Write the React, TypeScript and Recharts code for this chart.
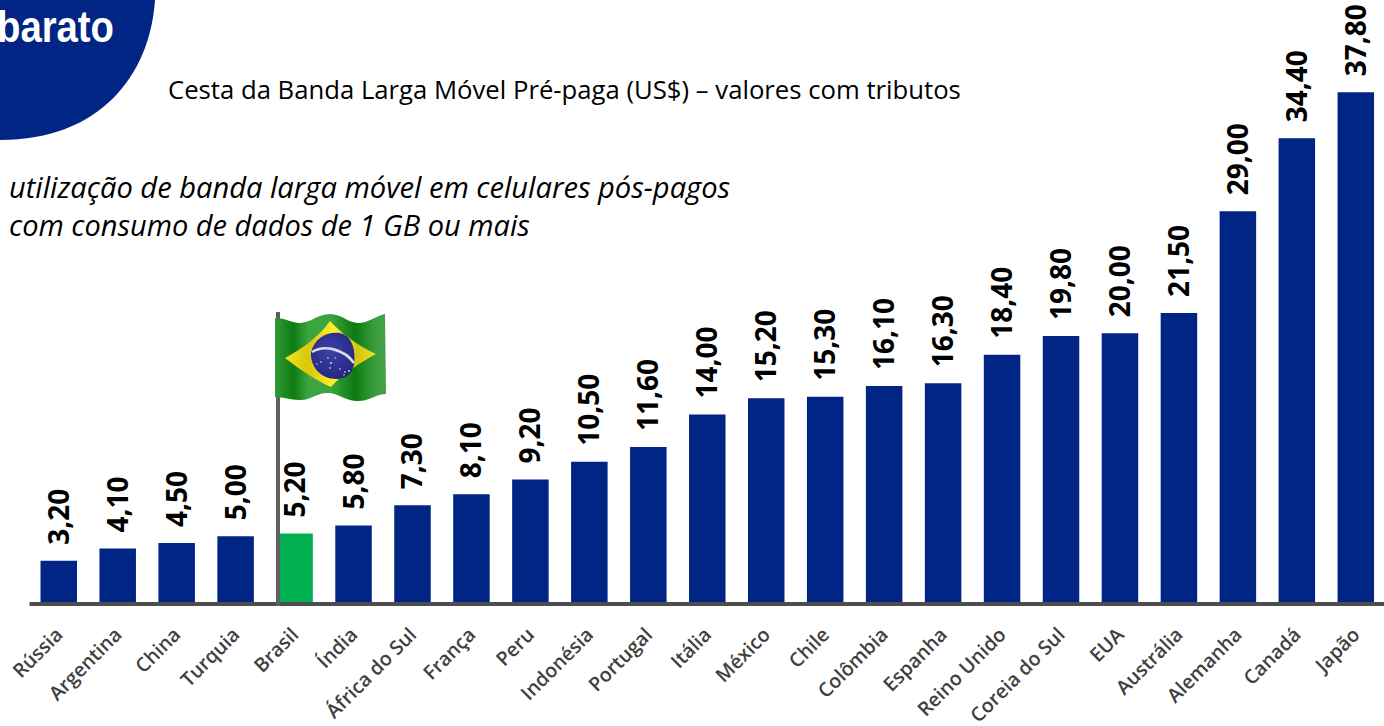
import { Bar, BarChart, Cell, LabelList, XAxis, YAxis } from "recharts";

const countries = [
  "Rússia", "Argentina", "China", "Turquia", "Brasil", "Índia", "África do Sul", "França", "Peru", "Indonésia",
  "Portugal", "Itália", "México", "Chile", "Colômbia", "Espanha", "Reino Unido", "Coreia do Sul", "EUA", "Austrália",
  "Alemanha", "Canadá", "Japão",
];
const prices = [
  3.2, 4.1, 4.5, 5.0, 5.2, 5.8, 7.3, 8.1, 9.2, 10.5, 11.6, 14.0, 15.2, 15.3, 16.1, 16.3, 18.4, 19.8, 20.0, 21.5, 29.0,
  34.4, 37.8,
];
const highlighted = "Brasil";

const chartData = countries.map((name, i) => ({ name, price: prices[i] }));

const NAVY = "#002585";
const GREEN = "#00B050";
const BODY_FONT = "'Open Sans', sans-serif";

function CountryTick({ x, y, payload }: any) {
  return (
    <text
      x={x + 5}
      y={y + 24}
      transform={`rotate(-45 ${x + 5} ${y + 24})`}
      textAnchor="end"
      fontFamily={BODY_FONT}
      fontSize={19.6}
      fontWeight={600}
      fill="#404040"
    >
      {payload.value}
    </text>
  );
}

function PriceLabel({ x, y, width, value }: any) {
  const lx = x + width / 2 + 10;
  const ly = y - 16;
  return (
    <text
      x={lx}
      y={ly}
      transform={`rotate(-90 ${lx} ${ly})`}
      fontFamily={BODY_FONT}
      fontSize={28}
      fontWeight={700}
      fill="#000"
    >
      {Number(value).toFixed(2).replace(".", ",")}
    </text>
  );
}

function Flag() {
  return (
    <g>
      <defs>
        <linearGradient id="flagGreen" x1="0" x2="1" y1="0" y2="0">
          <stop offset="0" stopColor="#2f9a35" />
          <stop offset="0.17" stopColor="#0f7a12" />
          <stop offset="0.3" stopColor="#3da53f" />
          <stop offset="0.5" stopColor="#3da53f" />
          <stop offset="0.72" stopColor="#0d7a10" />
          <stop offset="0.9" stopColor="#3b9e3d" />
          <stop offset="1" stopColor="#469f46" />
        </linearGradient>
        <linearGradient id="flagYellow" x1="0" x2="1" y1="0" y2="0">
          <stop offset="0" stopColor="#f4e41c" />
          <stop offset="0.25" stopColor="#d9c60f" />
          <stop offset="0.55" stopColor="#fff22c" />
          <stop offset="0.8" stopColor="#d3c612" />
          <stop offset="1" stopColor="#f0e21e" />
        </linearGradient>
        <radialGradient id="flagBlue" cx="0.45" cy="0.4" r="0.7">
          <stop offset="0" stopColor="#3c41a8" />
          <stop offset="1" stopColor="#20247c" />
        </radialGradient>
      </defs>
      <path
        d="M275 318 C285 318 292 323 300 323 C310 323 318 314 330 314 C342 314 348 323 358 323 C368 323 376 316 385 314 L386 394 C376 394 370 401 358 401 C345 401 338 393 328 393 C316 393 310 401 299 400 C290 400 284 397 275 397 Z"
        fill="url(#flagGreen)"
      />
      <path
        d="M285 358 C300 350 318 338 330 321 C340 332 358 346 376 354 C362 362 344 372 331 387 C316 381 298 368 285 358 Z"
        fill="url(#flagYellow)"
      />
      <path
        d="M311 352 C315 337 328 331 340 333 C350 335 355 346 354.5 360 C354 372 348 379 336 379 C322 379 310 368 311 352 Z"
        fill="url(#flagBlue)"
      />
      <path d="M312 352 C325 344 345 350 354 363" fill="none" stroke="#d8dbe8" strokeWidth={2.6} />
      <g fill="#e8e8f4">
        <circle cx={321} cy={362} r={0.8} />
        <circle cx={317} cy={364} r={0.7} />
        <circle cx={328} cy={358} r={0.8} />
        <circle cx={331} cy={363} r={0.9} />
        <circle cx={335} cy={358} r={0.7} />
        <circle cx={330} cy={368} r={0.8} />
        <circle cx={340} cy={369} r={0.8} />
        <circle cx={345} cy={372} r={0.8} />
        <circle cx={349} cy={371} r={0.9} />
        <circle cx={344} cy={375} r={0.7} />
      </g>
    </g>
  );
}

export default function App() {
  return (
    <div style={{ position: "absolute", left: 0, top: 0, width: 1384, height: 726, overflow: "hidden", background: "#fff" }}>
      <BarChart
        width={1386}
        height={726}
        data={chartData}
        margin={{ left: 29.5, right: 0.5, top: 62.4, bottom: 0 }}
        barSize={36.5}
      >
        <XAxis
          dataKey="name"
          interval={0}
          tick={<CountryTick />}
          tickLine={false}
          axisLine={{ stroke: "#4d4d4d", strokeWidth: 4 }}
          height={122}
        />
        <YAxis hide domain={[0, 40]} />
        <Bar dataKey="price" isAnimationActive={false}>
          {chartData.map((d) => (
            <Cell key={d.name} fill={d.name === highlighted ? GREEN : NAVY} />
          ))}
          <LabelList dataKey="price" content={<PriceLabel />} />
        </Bar>
      </BarChart>

      {/* slide decoration around the chart */}
      <svg width={1384} height={726} style={{ position: "absolute", left: 0, top: 0, pointerEvents: "none" }}>
        <path d="M0 0 L155 0 C150 75 100 140 0 140 Z" fill={NAVY} />
        <text
          x={-3}
          y={42}
          textLength={117}
          lengthAdjust="spacingAndGlyphs"
          fontFamily="'Liberation Sans', Arial"
          fontWeight={700}
          fontSize={44}
          fill="#fff"
        >
          barato
        </text>
        <text x={168} y={99} fontFamily={BODY_FONT} fontSize={25.7} fill="#000">
          Cesta da Banda Larga Móvel Pré-paga (US$) – valores com tributos
        </text>
        <text x={9} y={198} fontFamily={BODY_FONT} fontStyle="italic" fontSize={29.1} fill="#000">
          utilização de banda larga móvel em celulares pós-pagos
        </text>
        <text x={9} y={236} fontFamily={BODY_FONT} fontStyle="italic" fontSize={29} fill="#000">
          com consumo de dados de 1 GB ou mais
        </text>
        <rect x={276} y={312} width={4} height={294} fill="#5f5f5f" />
        <Flag />
      </svg>
    </div>
  );
}
